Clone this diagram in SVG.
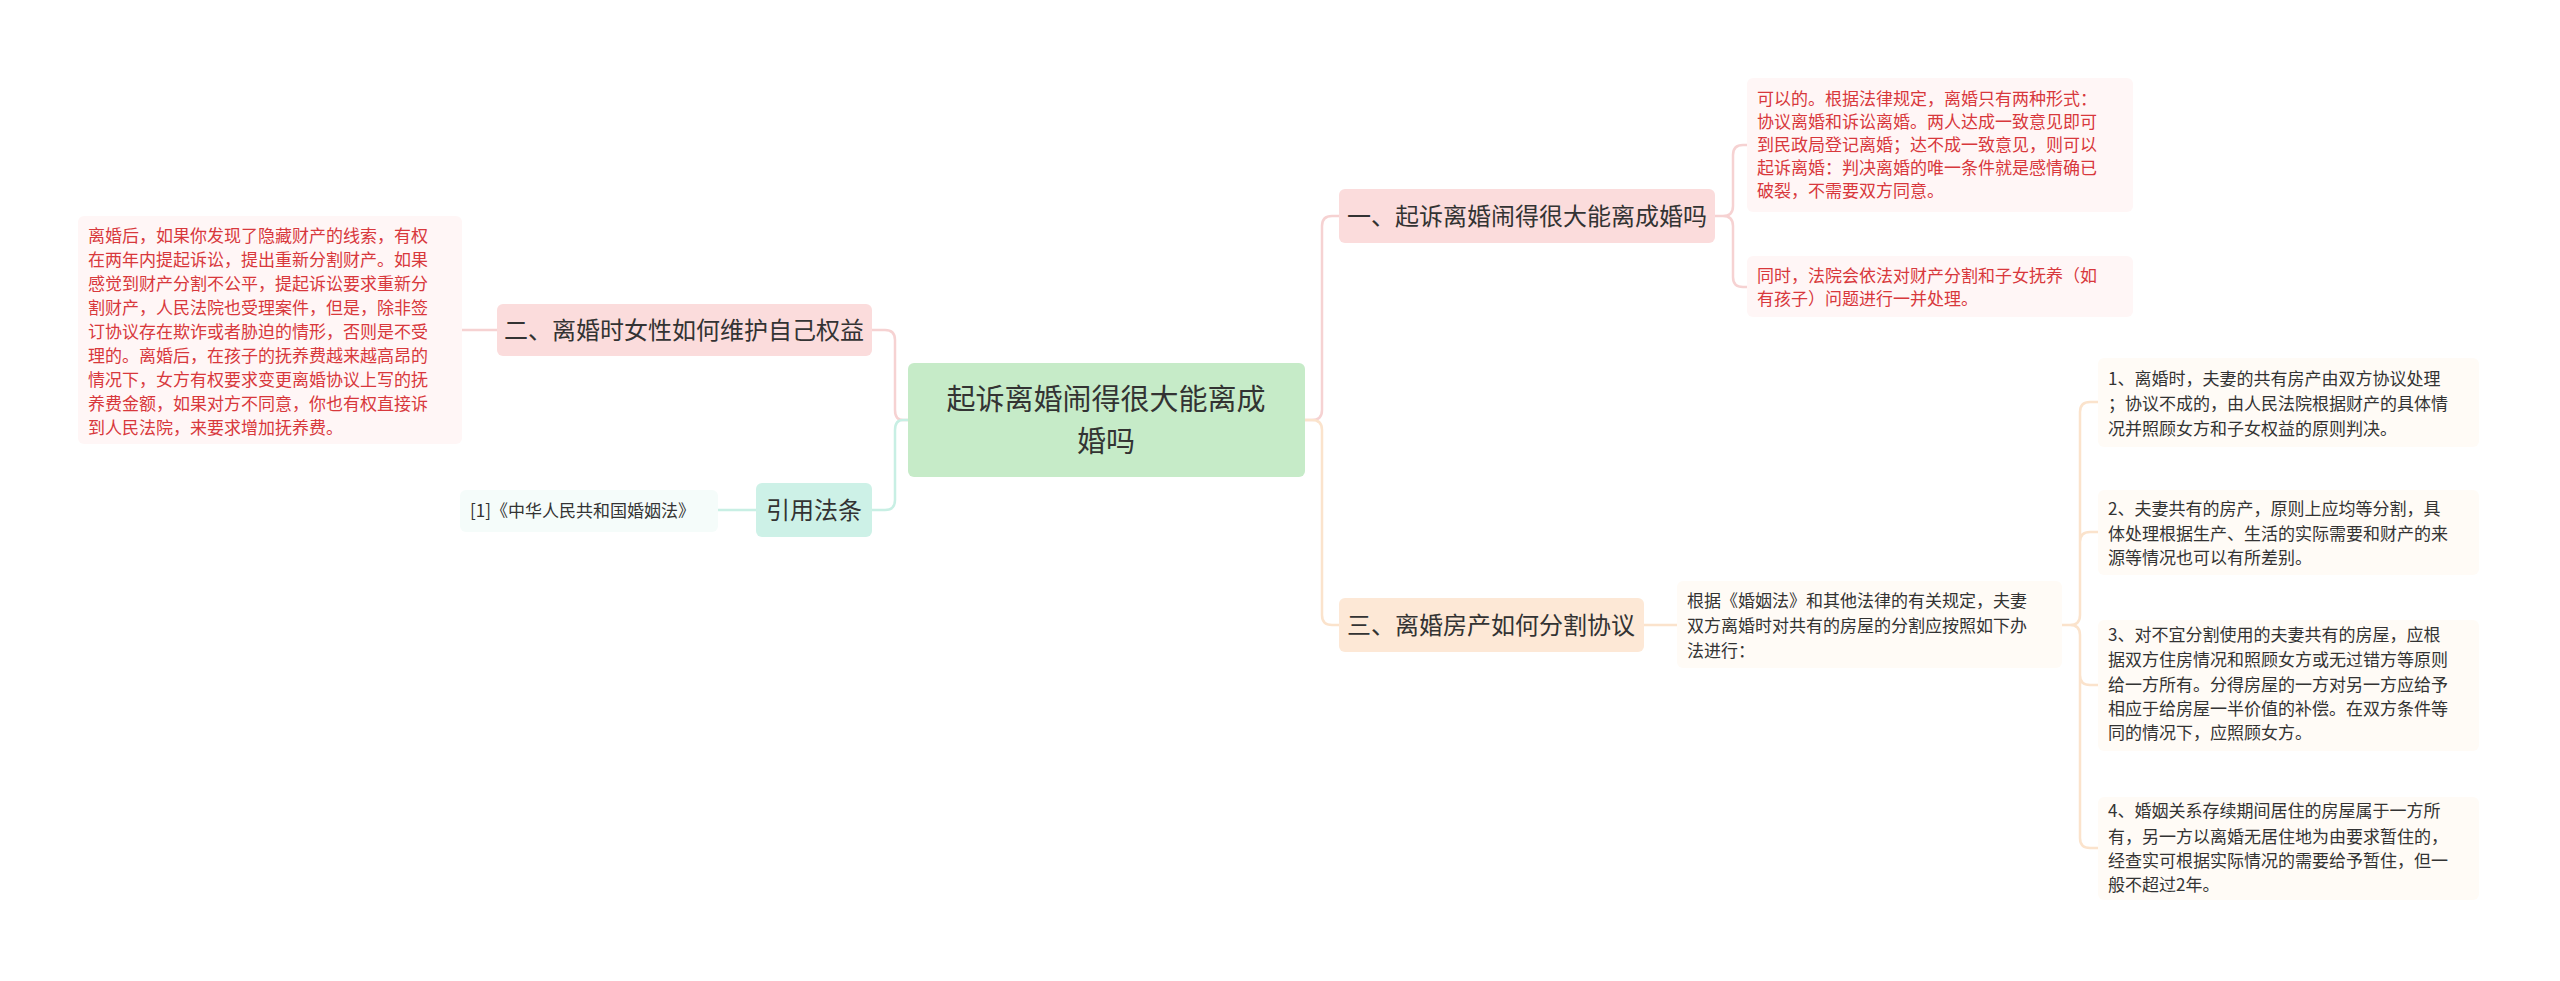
<svg xmlns="http://www.w3.org/2000/svg" width="2560" height="981" viewBox="0 0 2560 981">
<style>
text{font-family:"Noto Sans CJK SC","Noto Sans",sans-serif;}
.red{fill:#d8383c;font-size:17px;}
.gr{fill:#333;font-size:17px;}
.t{fill:#333;font-size:24px;}
.c{fill:none;stroke-width:2.5;}
</style>
<rect width="2560" height="981" fill="#fff"/>
<g id="connectors">
<path class="c" stroke="#f6d2d2" d="M908,420 H903 Q895,420 895,410 V340 Q895,330 885,330 H872"/>
<path class="c" stroke="#c8efe4" d="M908,420 H903 Q895,420 895,430 V500 Q895,510 885,510 H872"/>
<path class="c" stroke="#c8efe4" d="M756,510 H718"/>
<path class="c" stroke="#f6d2d2" d="M497,330 H462"/>
<path class="c" stroke="#f6d2d2" d="M1305,420 H1312 Q1322,420 1322,410 V226 Q1322,216 1332,216 H1339"/>
<path class="c" stroke="#fbe3cc" d="M1305,420 H1312 Q1322,420 1322,430 V615 Q1322,625 1332,625 H1339"/>
<path class="c" stroke="#f6d2d2" d="M1715,216 H1723 Q1733,216 1733,206 V155 Q1733,145 1743,145 H1747 M1723,216 Q1733,216 1733,226 V277 Q1733,287 1743,287 H1747"/>
<path class="c" stroke="#fbe3cc" d="M1644,625 H1677"/>
<path class="c" stroke="#fbe3cc" d="M2062,625 H2070 Q2080,625 2080,615 V412 Q2080,402 2090,402 H2098 M2080,615 V542 Q2080,532 2090,532 H2098 M2080,635 V675 Q2080,685 2090,685 H2098 M2070,625 Q2080,625 2080,635 V838 Q2080,848 2090,848 H2098"/>
</g>
<g id="center">
<rect x="908" y="363" width="397" height="114" rx="6" fill="#c6ebc8"/>
<text x="1106" y="410" text-anchor="middle" style="font-size:29px;fill:#333">起诉离婚闹得很大能离成</text>
<text x="1106" y="452" text-anchor="middle" style="font-size:29px;fill:#333">婚吗</text>
</g>
<g id="n2">
<rect x="497" y="304" width="375" height="52" rx="6" fill="#fbdcdc"/>
<text class="t" x="684" y="339" text-anchor="middle">二、离婚时女性如何维护自己权益</text>
</g>
<g id="n2text">
<rect x="78" y="216" width="384" height="228" rx="6" fill="#fff6f6"/>
<text class="red" x="88" y="242">离婚后，如果你发现了隐藏财产的线索，有权</text>
<text class="red" x="88" y="266">在两年内提起诉讼，提出重新分割财产。如果</text>
<text class="red" x="88" y="290">感觉到财产分割不公平，提起诉讼要求重新分</text>
<text class="red" x="88" y="314">割财产，人民法院也受理案件，但是，除非签</text>
<text class="red" x="88" y="338">订协议存在欺诈或者胁迫的情形，否则是不受</text>
<text class="red" x="88" y="362">理的。离婚后，在孩子的抚养费越来越高昂的</text>
<text class="red" x="88" y="386">情况下，女方有权要求变更离婚协议上写的抚</text>
<text class="red" x="88" y="410">养费金额，如果对方不同意，你也有权直接诉</text>
<text class="red" x="88" y="434">到人民法院，来要求增加抚养费。</text>
</g>
<g id="cite">
<rect x="756" y="483" width="116" height="54" rx="6" fill="#cdf1e7"/>
<text class="t" x="814" y="519" text-anchor="middle">引用法条</text>
</g>
<g id="citetext">
<rect x="460" y="490" width="258" height="42" rx="6" fill="#f5fcfa"/>
<text class="gr" x="470" y="517">[1]《中华人民共和国婚姻法》</text>
</g>
<g id="n1">
<rect x="1339" y="189" width="376" height="54" rx="6" fill="#fbdcdc"/>
<text class="t" x="1527" y="225" text-anchor="middle">一、起诉离婚闹得很大能离成婚吗</text>
</g>
<g id="n1a">
<rect x="1747" y="78" width="386" height="134" rx="6" fill="#fff6f6"/>
<text class="red" x="1757" y="105">可以的。根据法律规定，离婚只有两种形式：</text>
<text class="red" x="1757" y="128">协议离婚和诉讼离婚。两人达成一致意见即可</text>
<text class="red" x="1757" y="151">到民政局登记离婚；达不成一致意见，则可以</text>
<text class="red" x="1757" y="174">起诉离婚：判决离婚的唯一条件就是感情确已</text>
<text class="red" x="1757" y="197">破裂，不需要双方同意。</text>
</g>
<g id="n1b">
<rect x="1747" y="256" width="386" height="61" rx="6" fill="#fff6f6"/>
<text class="red" x="1757" y="282">同时，法院会依法对财产分割和子女抚养（如</text>
<text class="red" x="1757" y="305">有孩子）问题进行一并处理。</text>
</g>
<g id="n3">
<rect x="1339" y="598" width="305" height="54" rx="6" fill="#fde8d6"/>
<text class="t" x="1491" y="634" text-anchor="middle">三、离婚房产如何分割协议</text>
</g>
<g id="n3text">
<rect x="1677" y="581" width="385" height="87" rx="6" fill="#fffbf6"/>
<text class="gr" x="1687" y="607">根据《婚姻法》和其他法律的有关规定，夫妻</text>
<text class="gr" x="1687" y="632">双方离婚时对共有的房屋的分割应按照如下办</text>
<text class="gr" x="1687" y="657">法进行：</text>
</g>
<g id="r1">
<rect x="2098" y="358" width="381" height="89" rx="6" fill="#fffbf6"/>
<text class="gr" x="2108" y="385">1、离婚时，夫妻的共有房产由双方协议处理</text>
<text class="gr" x="2108" y="410">；协议不成的，由人民法院根据财产的具体情</text>
<text class="gr" x="2108" y="435">况并照顾女方和子女权益的原则判决。</text>
</g>
<g id="r2">
<rect x="2098" y="490" width="381" height="85" rx="6" fill="#fffbf6"/>
<text class="gr" x="2108" y="515">2、夫妻共有的房产，原则上应均等分割，具</text>
<text class="gr" x="2108" y="540">体处理根据生产、生活的实际需要和财产的来</text>
<text class="gr" x="2108" y="564">源等情况也可以有所差别。</text>
</g>
<g id="r3">
<rect x="2098" y="620" width="381" height="131" rx="6" fill="#fffbf6"/>
<text class="gr" x="2108" y="641">3、对不宜分割使用的夫妻共有的房屋，应根</text>
<text class="gr" x="2108" y="666">据双方住房情况和照顾女方或无过错方等原则</text>
<text class="gr" x="2108" y="691">给一方所有。分得房屋的一方对另一方应给予</text>
<text class="gr" x="2108" y="715">相应于给房屋一半价值的补偿。在双方条件等</text>
<text class="gr" x="2108" y="739">同的情况下，应照顾女方。</text>
</g>
<g id="r4">
<rect x="2098" y="797" width="381" height="103" rx="6" fill="#fffbf6"/>
<text class="gr" x="2108" y="817">4、婚姻关系存续期间居住的房屋属于一方所</text>
<text class="gr" x="2108" y="843">有，另一方以离婚无居住地为由要求暂住的，</text>
<text class="gr" x="2108" y="867">经查实可根据实际情况的需要给予暂住，但一</text>
<text class="gr" x="2108" y="891">般不超过2年。</text>
</g>
</svg>
